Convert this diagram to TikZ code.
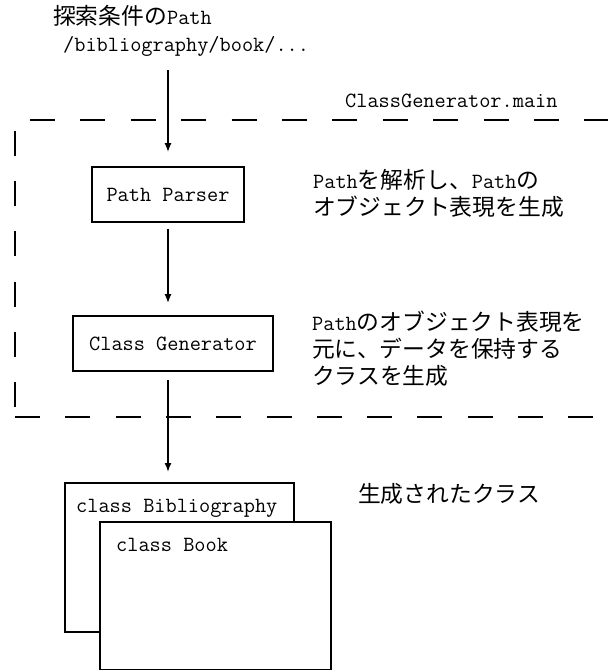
\documentclass[tikz,border=0pt]{standalone}
\usepackage{fontspec}
\newfontfamily\cj{Noto Sans CJK JP}[Scale=1.05]
\usetikzlibrary{arrows.meta}
\begin{document}
\begin{tikzpicture}[x=1pt,y=-1pt,
  txt/.style={inner sep=0pt, anchor=base west, font=\fontsize{21.7}{27}\ttfamily},
  procbox/.style={draw, line width=1.8pt, minimum width=152pt, minimum height=55pt, inner sep=0pt, font=\fontsize{21.7}{27}\ttfamily},
  classbox/.style={draw, line width=1.8pt, fill=white, anchor=north west, inner sep=0pt},
  flow/.style={line width=1.5pt, -{Latex[length=9pt,width=7pt]}},
  framedash/.style={line width=2.2pt, dash pattern=on 25pt off 25.3pt}
]
\useasboundingbox[fill=white] (0,0) rectangle (608,670);

% dashed frame of ClassGenerator.main
\begin{scope}
\clip (0,0) rectangle (608,670);
\draw[framedash, dash pattern=on 25pt off 25.4pt] (30,120) -- (660,120);
\draw[framedash] (15,417) -- (660,417);
\draw[framedash, dash pattern=on 25pt off 25.2pt] (15,131) -- (15,407);
\end{scope}

% texts
\node[txt] (t1) at (53,24) {{\cj 探索条件の}Path};
\node[txt] (t2) at (63,51) {/bibliography/book/...};
\node[txt] (main) at (345,107) {ClassGenerator.main};

% process boxes
\node[procbox] (pp) at (168,194.5) {Path Parser};
\node[procbox, minimum width=200pt] (cg) at (173,343.5) {Class Generator};

% descriptions
\node[txt] (d1a) at (313,188) {Path{\cj を解析し、}Path{\cj の}};
\node[txt] (d1b) at (313,215) {\cj オブジェクト表現を生成};
\node[txt] (d2a) at (312,330) {Path{\cj のオブジェクト表現を}};
\node[txt] (d2b) at (312,357) {\cj 元に、データを保持する};
\node[txt] (d2c) at (312,384) {\cj クラスを生成};

% generated classes
\node[classbox, minimum width=229pt, minimum height=149pt] (bib) at (64,482) {};
\node[txt] (bibl) at (76,512) {class Bibliography};
\node[classbox, minimum width=231pt, minimum height=148pt] (book) at (99,521) {};
\node[txt] (bookl) at (116,551) {class Book};
\node[txt] (gen) at (358,502) {\cj 生成されたクラス};

% arrows
\draw[flow, shorten <=14pt, shorten >=14pt] (t2.south -| pp.north) -- (pp.north);
\draw[flow, shorten <=6pt, shorten >=12pt] (pp.south) -- (cg.north -| pp.south);
\draw[flow, shorten <=8pt, shorten >=10pt] (cg.south -| pp.south) -- (bib.north -| pp.south);
\end{tikzpicture}
\end{document}
